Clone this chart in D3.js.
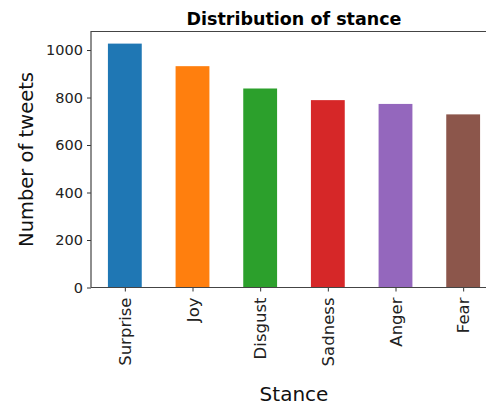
<!DOCTYPE html>
<html>
<head>
<meta charset="utf-8">
<script src="https://cdn.jsdelivr.net/npm/d3@7"></script>
<style>
  html, body { margin: 0; padding: 0; background: #fff; overflow: hidden; }
  svg { display: block; font-family: "DejaVu Sans", sans-serif; }
</style>
</head>
<body>
<script>
// data
const stances = ["Surprise", "Joy", "Disgust", "Sadness", "Anger", "Fear"];
const tweetCounts = [1027, 932, 838, 789, 773, 729];
const barColors = ["#1f77b4", "#ff7f0e", "#2ca02c", "#d62728", "#9467bd", "#8c564b"];
const yTicks = [0, 200, 400, 600, 800, 1000];

const width = 486, height = 406;
const svg = d3.select("body").append("svg").attr("width", width).attr("height", height);

// plot box (right side runs past the window, as in the original)
const margin = {left: 91, top: 31.5, bottom: 287.5};
const plotRight = 497;

const xScale = d3.scaleLinear().domain([-0.5, stances.length - 0.5]).range([margin.left, plotRight]);
const yScale = d3.scaleLinear().domain([0, 1078]).range([margin.bottom, margin.top]);

// bars
const barWidth = 0.5;
svg.append("g").selectAll("rect")
  .data(stances)
  .join("rect")
  .attr("x", (d, i) => xScale(i - barWidth / 2))
  .attr("width", (d, i) => xScale(i + barWidth / 2) - xScale(i - barWidth / 2))
  .attr("y", (d, i) => yScale(tweetCounts[i]))
  .attr("height", (d, i) => yScale(0) - yScale(tweetCounts[i]))
  .attr("fill", (d, i) => barColors[i]);

// y axis
const yAxis = d3.axisLeft(yScale).tickValues(yTicks).tickFormat(d3.format("d"))
  .tickSize(4).tickPadding(4);
const gy = svg.append("g")
  .attr("transform", `translate(${margin.left}, 0)`)
  .call(yAxis);
gy.select(".domain").remove();
gy.selectAll("line").attr("stroke", "#333");
gy.selectAll("text").attr("font-size", 14.5).attr("fill", "#222").attr("font-family", "DejaVu Sans");

// x axis
const xAxis = d3.axisBottom(xScale).tickValues(d3.range(stances.length))
  .tickFormat(i => stances[i]).tickSize(4).tickPadding(4);
const gx = svg.append("g")
  .attr("transform", `translate(0, ${margin.bottom})`)
  .call(xAxis);
gx.select(".domain").remove();
gx.selectAll("line").attr("stroke", "#333");
gx.selectAll("text")
  .attr("font-size", 16.5).attr("fill", "#222").attr("font-family", "DejaVu Sans")
  .attr("transform", "rotate(-90)")
  .attr("text-anchor", "end")
  .attr("x", -10).attr("y", 0).attr("dy", "0.35em");

// spines: left, top, bottom
const spine = svg.append("g").attr("stroke", "#444").attr("stroke-width", 1.2).attr("fill", "none");
spine.append("path").attr("d", `M${margin.left},${margin.bottom}V${margin.top}H${plotRight}`);
spine.append("path").attr("d", `M${margin.left},${margin.bottom}H${plotRight}`);

// title and labels
svg.append("text")
  .attr("x", (margin.left + plotRight) / 2).attr("y", 25)
  .attr("text-anchor", "middle")
  .attr("font-size", 17.5).attr("font-weight", "bold")
  .text("Distribution of stance");

svg.append("text")
  .attr("transform", `translate(33, ${(margin.top + margin.bottom) / 2}) rotate(-90)`)
  .attr("text-anchor", "middle")
  .attr("font-size", 19.5).attr("fill", "#111")
  .text("Number of tweets");

svg.append("text")
  .attr("x", (margin.left + plotRight) / 2).attr("y", 401)
  .attr("text-anchor", "middle")
  .attr("font-size", 20).attr("fill", "#111")
  .text("Stance");
</script>
</body>
</html>
